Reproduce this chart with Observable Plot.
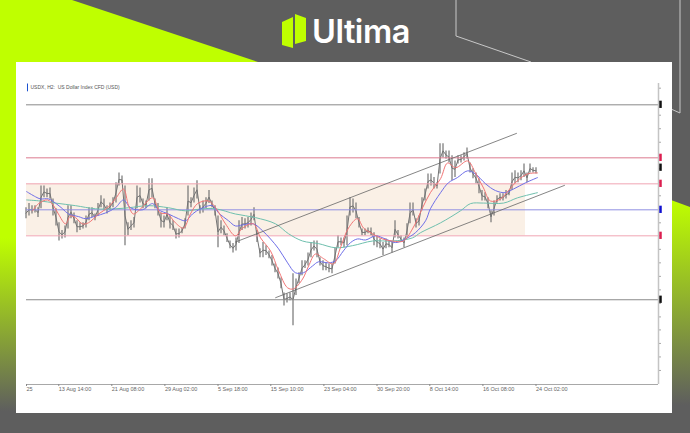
<!DOCTYPE html>
<html>
<head>
<meta charset="utf-8">
<script src="https://cdn.jsdelivr.net/npm/d3@7"></script>
<script src="https://cdn.jsdelivr.net/npm/@observablehq/plot@0.6"></script>
<style>
html,body{margin:0;padding:0;width:690px;height:433px;overflow:hidden;background:#5e5e5e}
#stage{position:relative;width:690px;height:433px;overflow:hidden;background:#5e5e5e;font-family:Inter,"Liberation Sans",sans-serif}
#deco{position:absolute;left:0;top:0}
#card{position:absolute;left:16px;top:62px;width:656px;height:351px;background:#fff}
#chart{position:absolute;left:0;top:0}
#brand{position:absolute;left:312px;top:12px;font-size:32.5px;font-weight:600;color:#fff;letter-spacing:-.5px;line-height:40px}
</style>
</head>
<body>
<div id="stage">
<svg id="deco" width="690" height="433">
<defs>
<linearGradient id="gl" x1="0" y1="0" x2="0" y2="1"><stop offset="0" stop-color="#bfff00"/><stop offset=".55" stop-color="#bfff00"/><stop offset=".95" stop-color="#5e5e5e"/></linearGradient>
<linearGradient id="gr" gradientUnits="userSpaceOnUse" x1="0" y1="200" x2="0" y2="405"><stop offset="0" stop-color="#bfff00"/><stop offset="1" stop-color="#5e5e5e"/></linearGradient>
</defs>
<polygon points="0,0 72,0 258,62 16,62 16,433 0,433" fill="url(#gl)"/>
<polygon points="671,200 690,207 690,433 671,433" fill="url(#gr)"/>
<polyline points="456,0 456,36 531,62" fill="none" stroke="#c8c8c8" stroke-width="1"/>
<polyline points="680,0 680,113 671,109" fill="none" stroke="#c8c8c8" stroke-width="1"/>
<polygon points="282,22 293,17 293,48 282,45" fill="#bfff00"/>
<polygon points="295,14 306,18 306,41 295,44" fill="#bfff00"/>
</svg>
<div id="brand">Ultima</div>
<div id="card"></div>
<div id="chart"></div>
</div>
<script>
const high = [98.04,98.12,98.08,98.08,98.04,98.46,98.46,98.40,98.42,98.21,98.02,97.75,97.60,97.69,98.08,98.08,97.94,97.79,97.75,97.75,97.88,98.04,98.04,97.92,98.12,98.27,98.21,98.08,98.13,98.23,98.52,98.71,98.65,98.46,97.75,97.79,97.85,98.46,98.42,98.21,98.17,98.60,98.60,98.21,98.12,97.94,97.88,98.04,97.88,97.79,97.63,97.63,97.65,97.83,98.46,98.23,98.42,98.56,98.08,98.17,98.23,98.37,98.17,98.08,97.88,97.79,97.69,97.54,97.40,97.35,97.46,97.79,97.85,97.83,97.85,97.94,98.04,97.60,97.25,97.37,97.31,97.21,97.12,96.96,96.88,96.69,96.40,96.38,96.40,96.77,96.67,96.79,97.02,97.02,97.17,97.37,97.40,97.40,97.08,97.02,96.98,96.96,96.96,97.27,97.50,97.46,97.46,97.88,98.23,98.21,98.13,97.85,97.63,97.63,97.65,97.65,97.56,97.50,97.44,97.37,97.44,97.40,97.37,97.79,97.60,97.50,97.46,97.73,98.13,98.13,97.83,97.88,98.23,98.40,98.69,98.69,98.62,98.52,99.27,99.27,99.13,99.13,99.04,98.94,99.04,99.04,99.10,99.19,98.90,98.79,98.71,98.60,98.37,98.33,98.23,97.98,98.17,98.27,98.31,98.31,98.37,98.37,98.71,98.75,98.71,98.75,98.88,98.71,98.88,98.81,98.81];
const low = [97.83,97.88,97.92,97.94,97.85,98.02,98.23,98.23,98.21,97.88,97.69,97.40,97.44,97.46,97.63,97.83,97.73,97.56,97.60,97.63,97.65,97.79,97.85,97.79,97.88,98.04,97.98,97.92,97.98,98.04,98.13,98.46,98.50,97.31,97.50,97.60,97.65,98.02,98.13,98.02,98.02,98.17,98.23,98.02,97.88,97.65,97.65,97.79,97.63,97.60,97.44,97.46,97.54,97.63,97.88,98.04,98.13,98.21,97.92,97.94,98.02,98.12,98.04,97.88,97.27,97.54,97.50,97.37,97.25,97.17,97.21,97.35,97.60,97.63,97.65,97.69,97.79,97.37,97.08,97.08,97.12,97.06,96.92,96.79,96.67,96.48,96.15,96.21,96.25,95.77,96.35,96.58,96.73,96.87,96.92,97.08,97.21,97.08,96.92,96.83,96.83,96.79,96.77,96.96,97.27,97.31,97.27,97.31,97.88,97.94,97.83,97.65,97.50,97.50,97.54,97.50,97.31,97.27,97.25,97.12,97.25,97.27,97.17,97.46,97.44,97.37,97.27,97.46,97.73,97.88,97.65,97.69,97.98,98.17,98.40,98.46,98.40,98.40,98.69,99.00,98.98,98.90,98.56,98.62,98.88,98.90,98.94,98.98,98.71,98.60,98.50,98.31,98.17,98.17,98.02,97.75,97.88,98.13,98.17,98.17,98.21,98.27,98.37,98.50,98.52,98.56,98.62,98.52,98.71,98.71,98.69];
const redBar = [2.2,4.2,7.2,9.2,10.8,13.2,14.8,16.5,18.8,20.8,24.2,27.2,29.8,32.5,34.2,35.8,38.2,42.2,44.8,47.2,49.8,52.5,54.8,57.2,60.8,63.2,66.5,69.8,72.2,75.8,78.2,81.5,84.2,87.2,89.2,92.2,94.2,96.5,99.2,102.5,104.8,107.5,110.5,112.5,115.5,118.8,122.2,125.8,128.8,132.2,134.8,138.2,140.5,143.2,147.2,149.8,152.5,154.8,158.2,160.8,163.8,167.2,170.5];
const redMA = [97.98,98.12,98.19,98.08,97.92,97.73,97.88,97.85,97.73,97.75,97.92,98.04,98.21,98.40,98.08,97.92,98.02,98.23,97.94,97.92,97.75,97.65,97.92,98.12,98.17,98.04,97.73,97.50,97.65,97.73,97.46,97.21,96.83,96.50,96.48,96.67,96.92,97.15,97.06,96.96,97.27,97.65,97.83,97.65,97.54,97.44,97.40,97.40,97.63,98.04,98.33,98.60,98.90,98.81,98.94,98.71,98.42,98.17,98.21,98.37,98.56,98.69,98.71];
const blueBar = [0.2,3.2,4.8,7.5,9.8,12.2,14.2,17.5,19.8,23.2,26.5,29.8,32.5,34.8,38.8,42.2,44.2,47.5,50.8,53.2,55.5,58.2,62.2,64.2,67.5,69.8,72.2,75.8,78.8,81.5,84.2,87.2,89.8,92.5,95.5,97.5,100.8,103.2,105.8,108.2,110.5,113.2,116.5,119.8,123.2,126.5,129.8,133.2,134.8,138.2,140.8,143.8,147.2,149.8,153.2,156.5,159.8,162.5,166.5,170.5];
const blueMA = [98.35,98.25,98.21,98.21,98.13,98.02,97.92,97.87,97.83,97.88,97.94,98.04,98.19,98.04,98.00,98.12,98.00,97.92,97.83,97.79,97.92,98.02,98.08,97.94,97.79,97.69,97.71,97.73,97.60,97.44,97.25,96.98,96.79,96.79,96.92,97.00,96.98,97.02,97.21,97.37,97.44,97.42,97.50,97.44,97.37,97.44,97.56,97.79,98.02,98.33,98.52,98.62,98.75,98.69,98.50,98.37,98.33,98.40,98.52,98.62];
const tealBar = [0.2,4.8,9.8,16.5,23.2,29.8,34.2,40.8,47.5,53.2,58.8,63.2,69.8,76.5,83.2,87.5,92.2,97.5,103.2,108.8,115.5,122.2,128.8,131.5,138.2,144.8,148.2,152.5,159.2,163.8,170.5];
const tealMA = [98.19,98.17,98.13,98.08,98.02,98.02,98.04,98.08,98.04,97.98,98.02,98.02,97.92,97.85,97.73,97.54,97.40,97.35,97.27,97.31,97.40,97.40,97.46,97.56,97.75,97.98,98.12,98.13,98.13,98.23,98.33];
const levelPrices = [100.02,99,98.5,98,97.5,96.27];
const levelColors = ["#8a8a8a","#dc7a8e","#f0a5b3","#8f8fe2","#f0a5b3","#8a8a8a"];
const markerPrices = [100.02,99,98.81,98.5,98,97.5,96.27];
const markerColors = ["#111","#dc1f50","#111","#dc1f50","#1010d0","#dc1f50","#111"];
const zoneTop = 98.5, zoneBottom = 97.5;
const channelBars = [[69.8,163.5],[83.2,179.5]];
const channelPrices = [[97.38,99.47],[96.31,98.47]];
const tickBars = [0.17,10.93,28.6,46.3,64,81.6,99.3,117,134.6,152.3,170];
const tickLabels = ["25","13 Aug 14:00","21 Aug 08:00","29 Aug 02:00","5 Sep 18:00","15 Sep 10:00","23 Sep 04:00","30 Sep 20:00","8 Oct 14:00","16 Oct 08:00","24 Oct 02:00"];
const priceTicks = [94.91,95.17,95.43,95.69,95.94,96.20,96.46,96.72,96.98,97.24,97.50,97.75,98.01,98.27,98.53,98.79,99.05,99.30,99.56,99.82,100.08,100.34];
const title = "USDX, H2:  US Dollar Index CFD (USD)";

const bars = high.map((h,i)=>({i,high:h,low:low[i],mid:(h+low[i])/2}));
const series = (xs,ys)=>xs.map((x,i)=>({x,y:ys[i]}));
const xMax = 210.83, yMin = 94.64, yMax = 100.43;

const plot = Plot.plot({
  width:690,height:433,marginLeft:26,marginRight:32,marginTop:83,marginBottom:49,
  style:{background:"transparent",fontFamily:"'Liberation Sans',sans-serif",fontSize:"5.5px"},
  x:{type:"linear",domain:[0.167,xMax]},
  y:{type:"linear",domain:[yMin,yMax]},
  marks:[
    Plot.rect([0],{x1:0.167,x2:166.5,y1:zoneBottom,y2:zoneTop,fill:"#faf0e6"}),
    Plot.ruleX(bars,{x:"i",y1:"low",y2:"high",stroke:"#747474",strokeWidth:1.2}),
    Plot.line(bars,{x:"i",y:"mid",stroke:"#747474",strokeWidth:1}),
    ...levelPrices.map((p,i)=>Plot.ruleY([p],{x1:0.167,x2:xMax,stroke:levelColors[i],strokeWidth:1})),
    Plot.line(series(tealBar,tealMA),{x:"x",y:"y",stroke:"#6fc0ae",strokeWidth:1,curve:"catmull-rom"}),
    Plot.line(series(blueBar,blueMA),{x:"x",y:"y",stroke:"#6f6fe8",strokeWidth:1,curve:"catmull-rom"}),
    Plot.line(series(redBar,redMA),{x:"x",y:"y",stroke:"#f27474",strokeWidth:1,curve:"catmull-rom"}),
    ...channelBars.map((xs,i)=>Plot.line(series(xs,channelPrices[i]),{x:"x",y:"y",stroke:"#666",strokeWidth:0.8})),
    Plot.ruleY([yMin],{x1:0.167,x2:xMax,stroke:"#a8a8a8",strokeWidth:1}),
    Plot.ruleX([xMax],{y1:yMin,y2:yMax,stroke:"#c4c4c4",strokeWidth:1.5}),
    Plot.axisX({ticks:tickBars,tickFormat:d=>tickLabels[tickBars.indexOf(d)],tickSize:2,tickPadding:1,textAnchor:"start",stroke:"#888",fill:"#666",fontSize:5.5,label:null,tickRotate:0}),
    Plot.axisY({anchor:"right",ticks:priceTicks,tickSize:2,tickFormat:()=>"",stroke:"#aaa",label:null}),
    ...markerPrices.map((p,i)=>Plot.ruleX([211.5],{y1:p-0.07,y2:p+0.07,stroke:markerColors[i],strokeWidth:2.5})),
    Plot.ruleX([0.5],{y1:100.27,y2:100.42,stroke:"#1a50d0",strokeWidth:1}),
    Plot.text([title],{frameAnchor:"top-left",dx:4,dy:2,textAnchor:"start",fill:"#555",fontSize:5})
  ]
});
document.getElementById("chart").appendChild(plot);
</script>
</body>
</html>
